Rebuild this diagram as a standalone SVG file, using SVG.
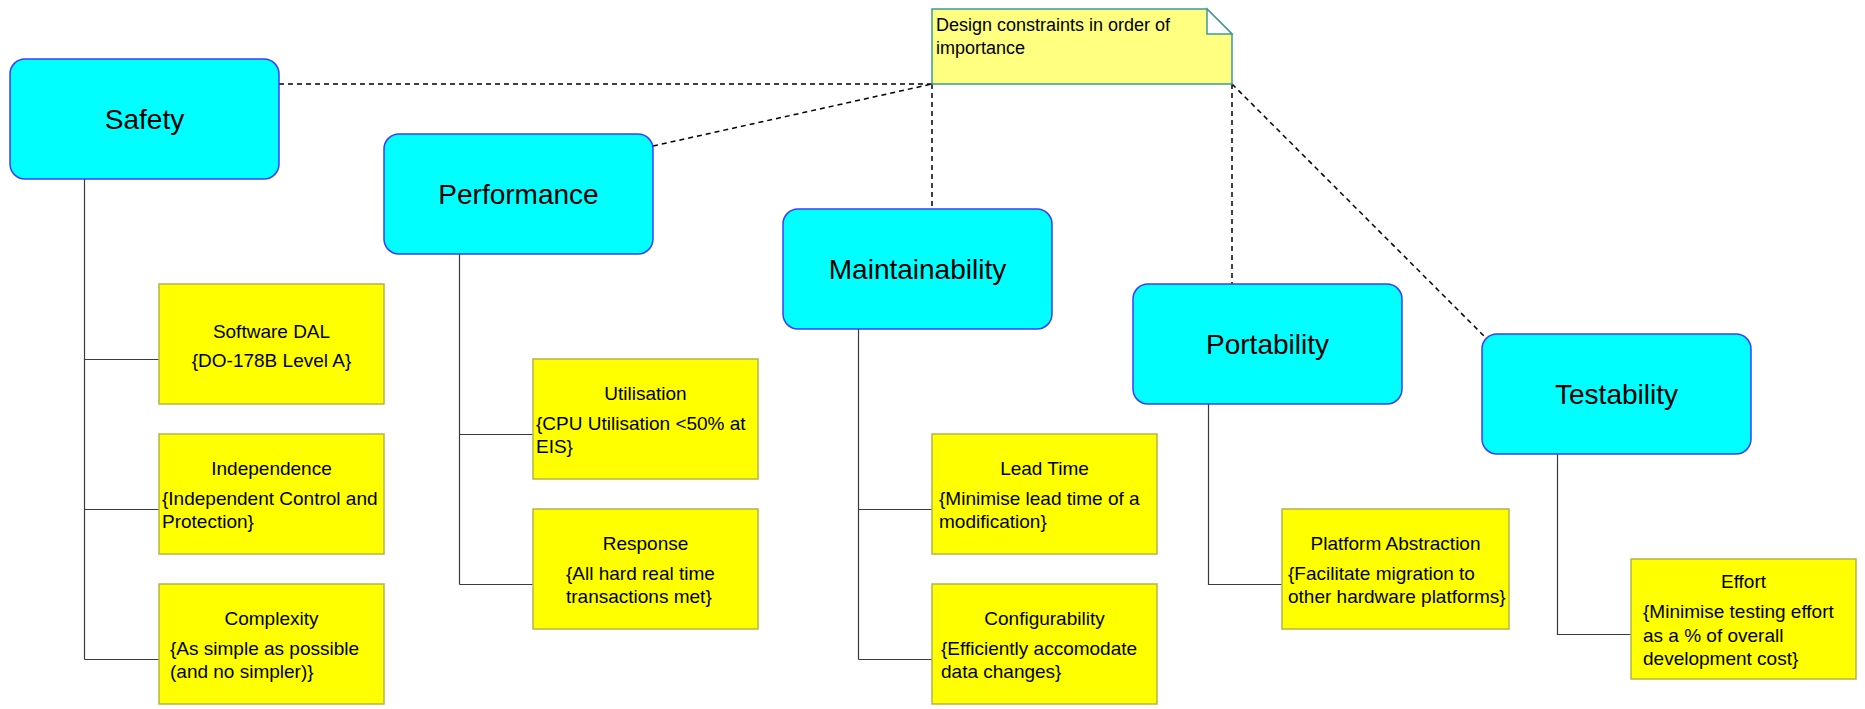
<svg xmlns="http://www.w3.org/2000/svg" width="1865" height="709" viewBox="0 0 1865 709">
  <style>
    .parent { fill: #00ffff; stroke: #3c3cff; stroke-width: 1.5; }
    .child { fill: #ffff00; stroke: #b4b44a; stroke-width: 1.5; }
    .note { fill: #ffff80; stroke: #3c9a9a; stroke-width: 1.5; }
    .fold { fill: #ffffff; stroke: #3c9a9a; stroke-width: 1.5; }
    .ptext { font-family: "Liberation Sans", Arial, sans-serif; font-size: 28px; fill: #000; text-anchor: middle; }
    .ttext { font-family: "Liberation Sans", Arial, sans-serif; font-size: 19px; fill: #000; text-anchor: middle; }
    .btext { font-family: "Liberation Sans", Arial, sans-serif; font-size: 19px; fill: #000; }
    .ntext { font-family: "Liberation Sans", Arial, sans-serif; font-size: 18px; fill: #000; }
    .tree { stroke: #3a3a3a; stroke-width: 1.2; fill: none; }
    .anchor { stroke: #000; stroke-width: 1.5; stroke-dasharray: 5 4; fill: none; }
  </style>

  <rect width="1865" height="709" fill="#ffffff"/>

  <!-- connectors: note anchors (dashed) and hierarchy lines (solid) -->
  <g id="connectors">
    <line class="anchor" x1="279" y1="84" x2="932" y2="84"/>
    <line class="anchor" x1="653" y1="146" x2="932" y2="84"/>
    <line class="anchor" x1="932" y1="84" x2="932" y2="209"/>
    <line class="anchor" x1="1232" y1="84" x2="1232" y2="284"/>
    <line class="anchor" x1="1232" y1="84" x2="1486" y2="338"/>

    <path class="tree" d="M84.5 179 V659.5 M84.5 359.5 H159 M84.5 509.5 H159 M84.5 659.5 H159"/>
    <path class="tree" d="M459.5 254 V584.5 M459.5 434.5 H533 M459.5 584.5 H533"/>
    <path class="tree" d="M858.5 329 V659.5 M858.5 509.5 H932 M858.5 659.5 H932"/>
    <path class="tree" d="M1208.5 404 V584.5 H1282"/>
    <path class="tree" d="M1557.5 454 V634.5 H1631"/>
  </g>

  <!-- note -->
  <g id="note">
    <path class="note" d="M932 9 H1207 L1232 34 V84 H932 Z"/>
    <path class="fold" d="M1207 9 V34 H1232 Z"/>
    <text class="ntext" x="936" y="31">Design constraints in order of</text>
    <text class="ntext" x="936" y="54">importance</text>
  </g>

  <!-- top-level constraints -->
  <g id="safety">
    <rect class="parent" x="10" y="59" width="269" height="120" rx="15" ry="15"/>
    <text class="ptext" x="144.5" y="129">Safety</text>
  </g>
  <g id="performance">
    <rect class="parent" x="384" y="134" width="269" height="120" rx="15" ry="15"/>
    <text class="ptext" x="518.5" y="204">Performance</text>
  </g>
  <g id="maintainability">
    <rect class="parent" x="783" y="209" width="269" height="120" rx="15" ry="15"/>
    <text class="ptext" x="917.5" y="279">Maintainability</text>
  </g>
  <g id="portability">
    <rect class="parent" x="1133" y="284" width="269" height="120" rx="15" ry="15"/>
    <text class="ptext" x="1267.5" y="354">Portability</text>
  </g>
  <g id="testability">
    <rect class="parent" x="1482" y="334" width="269" height="120" rx="15" ry="15"/>
    <text class="ptext" x="1616.5" y="404">Testability</text>
  </g>

  <!-- safety details -->
  <g id="software-dal">
    <rect class="child" x="159" y="284" width="225" height="120"/>
    <text class="ttext" x="271.5" y="338">Software DAL</text>
    <text class="ttext" x="271.5" y="367">{DO-178B Level A}</text>
  </g>
  <g id="independence">
    <rect class="child" x="159" y="434" width="225" height="120"/>
    <text class="ttext" x="271.5" y="475">Independence</text>
    <text class="btext" x="162" y="505">{Independent Control and</text>
    <text class="btext" x="162" y="528">Protection}</text>
  </g>
  <g id="complexity">
    <rect class="child" x="159" y="584" width="225" height="120"/>
    <text class="ttext" x="271.5" y="625">Complexity</text>
    <text class="btext" x="170" y="655">{As simple as possible</text>
    <text class="btext" x="170" y="678">(and no simpler)}</text>
  </g>

  <!-- performance details -->
  <g id="utilisation">
    <rect class="child" x="533" y="359" width="225" height="120"/>
    <text class="ttext" x="645.5" y="400">Utilisation</text>
    <text class="btext" x="536" y="430">{CPU Utilisation &lt;50% at</text>
    <text class="btext" x="536" y="453">EIS}</text>
  </g>
  <g id="response">
    <rect class="child" x="533" y="509" width="225" height="120"/>
    <text class="ttext" x="645.5" y="550">Response</text>
    <text class="btext" x="566" y="580">{All hard real time</text>
    <text class="btext" x="566" y="603">transactions met}</text>
  </g>

  <!-- maintainability details -->
  <g id="lead-time">
    <rect class="child" x="932" y="434" width="225" height="120"/>
    <text class="ttext" x="1044.5" y="475">Lead Time</text>
    <text class="btext" x="939" y="505">{Minimise lead time of a</text>
    <text class="btext" x="939" y="528">modification}</text>
  </g>
  <g id="configurability">
    <rect class="child" x="932" y="584" width="225" height="120"/>
    <text class="ttext" x="1044.5" y="625">Configurability</text>
    <text class="btext" x="941" y="655">{Efficiently accomodate</text>
    <text class="btext" x="941" y="678">data changes}</text>
  </g>

  <!-- portability details -->
  <g id="platform-abstraction">
    <rect class="child" x="1282" y="509" width="227" height="120"/>
    <text class="ttext" x="1395.5" y="550">Platform Abstraction</text>
    <text class="btext" x="1288" y="580">{Facilitate migration to</text>
    <text class="btext" x="1288" y="603">other hardware platforms}</text>
  </g>

  <!-- testability details -->
  <g id="effort">
    <rect class="child" x="1631" y="559" width="225" height="120"/>
    <text class="ttext" x="1743.5" y="588">Effort</text>
    <text class="btext" x="1643" y="618">{Minimise testing effort</text>
    <text class="btext" x="1643" y="642">as a % of overall</text>
    <text class="btext" x="1643" y="665">development cost}</text>
  </g>
</svg>
